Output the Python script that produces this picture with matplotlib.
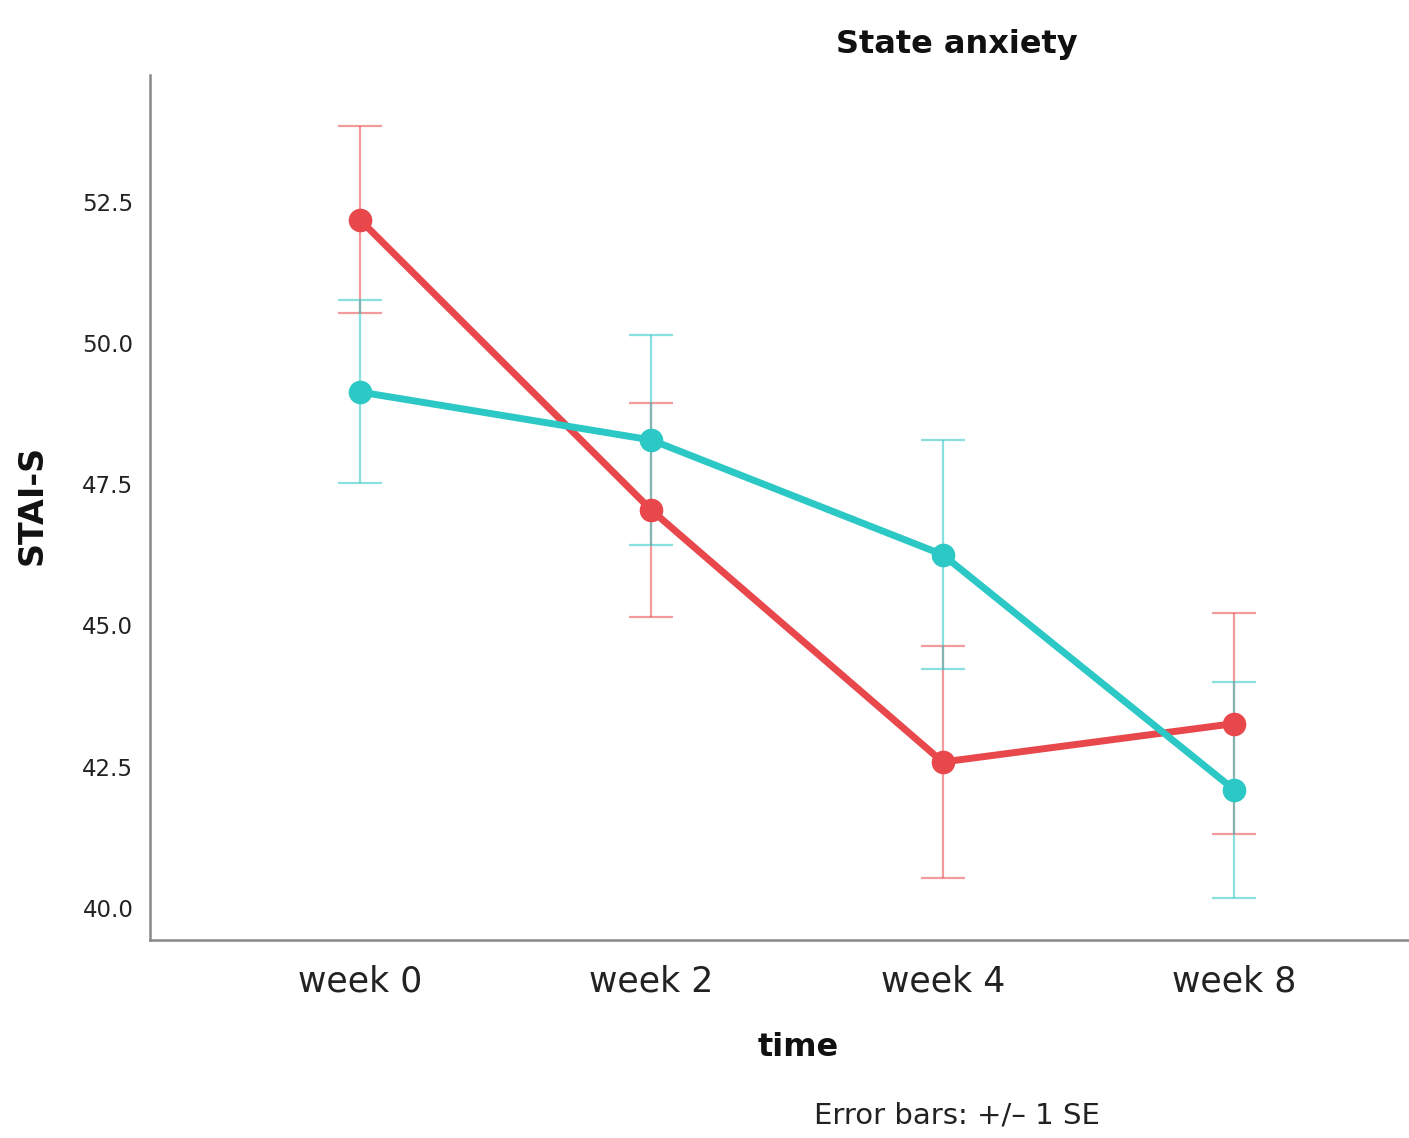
import numpy as np
import matplotlib
matplotlib.use("Agg")
import matplotlib.pyplot as plt

weeks = ["week 0", "week 2", "week 4", "week 8"]
red_mean = [52.18, 47.04, 42.58, 43.26]
red_se = [1.65, 1.90, 2.06, 1.95]
teal_mean = [49.13, 48.28, 46.25, 42.09]
teal_se = [1.62, 1.85, 2.03, 1.91]
yticks = [40.0, 42.5, 45.0, 47.5, 50.0, 52.5]

RED = "#E8474C"
TEAL = "#2BC8C5"

fig = plt.figure(figsize=(14.09, 11.38), dpi=100)
ax = fig.add_axes([150 / 1409, 1 - 940 / 1138, 1259 / 1409, 865 / 1138])
x = np.arange(len(weeks))

for m, se, c in [(red_mean, red_se, RED), (teal_mean, teal_se, TEAL)]:
    ax.errorbar(x, m, yerr=se, fmt="none", ecolor=c, elinewidth=1.6,
                capsize=16, capthick=1.6, alpha=0.55, zorder=2)
    ax.plot(x, m, color=c, lw=5, marker="o", ms=16, zorder=3,
            solid_capstyle="round")

ax.set_xlim(-0.72, 3.6)
ax.set_ylim(39.43, 54.74)
ax.set_xticks(x)
ax.set_xticklabels(weeks, fontsize=25, color="#222222")
ax.set_yticks(yticks)
ax.set_yticklabels([f"{v:.1f}" for v in yticks], fontsize=16.5, color="#222222")
ax.tick_params(length=0, pad=12)
ax.tick_params(axis="x", pad=18)
for s in ["top", "right"]:
    ax.spines[s].set_visible(False)
for s in ["left", "bottom"]:
    ax.spines[s].set_color("#888888")
    ax.spines[s].set_linewidth(1.8)

fig.text(32 / 1409, 1 - 505 / 1138, "STAI-S", rotation=90, fontsize=24,
         fontweight="bold", ha="center", va="center", color="#111111")
fig.text(798 / 1409, 1 - 1047 / 1138, "time", fontsize=23,
         fontweight="bold", ha="center", va="center", color="#111111")
fig.text(957 / 1409, 1 - 45 / 1138, "State anxiety", fontsize=23,
         fontweight="bold", ha="center", va="center", color="#111111")
fig.text(957 / 1409, 1 - 1115 / 1138, "Error bars: +/\u2013 1 SE", fontsize=21,
         ha="center", va="center", color="#222222")

fig.savefig("out.png", dpi=100)
